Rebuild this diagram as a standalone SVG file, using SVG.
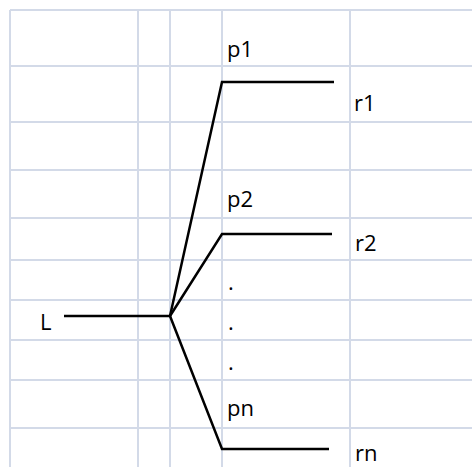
<svg xmlns="http://www.w3.org/2000/svg" width="472" height="467" viewBox="0 0 472 467">
<style>
.g{stroke:#D3DAE8;stroke-width:2;fill:none}
.c{stroke:#000;stroke-width:2.5;fill:none;stroke-linejoin:miter}
text{font-family:"Open Sans","Noto Sans",sans-serif;font-size:22px;fill:#000}
</style>
<rect width="472" height="467" fill="#fff"/>
<g id="grid">
<path class="g" d="M10 10V467M138 10V467M170 10V467M222 10V467M350 10V467"/>
<path class="g" d="M10 10H472M10 66H472M10 122H472M10 170H472M10 218H472M10 260H472M10 300H472M10 340H472M10 380H472M10 428H472"/>
</g>
<g id="connectors">
<path class="c" d="M64 316H170"/>
<path class="c" d="M170 316L222 82H334"/>
<path class="c" d="M170 316L222 234H332"/>
<path class="c" d="M170 316L222 449H329"/>
</g>
<g id="node-L"><text x="40" y="330">L</text></g>
<g id="node-p1"><text x="227" y="57">p1</text></g>
<g id="node-r1"><text x="354" y="111">r1</text></g>
<g id="node-p2"><text x="227" y="207">p2</text></g>
<g id="node-r2"><text x="355" y="251">r2</text></g>
<g id="node-dots"><text x="228" y="290">.</text><text x="228" y="330">.</text><text x="228" y="370">.</text></g>
<g id="node-pn"><text x="227" y="416">pn</text></g>
<g id="node-rn"><text x="355" y="461">rn</text></g>
</svg>
